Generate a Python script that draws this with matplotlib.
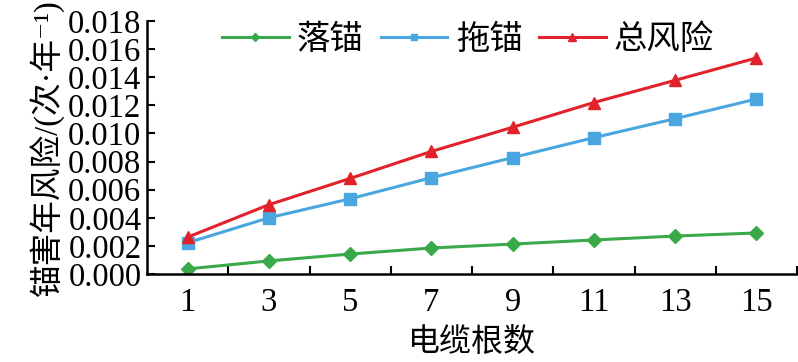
import numpy as np
import matplotlib
matplotlib.use("Agg")
import matplotlib.pyplot as plt

plt.rcParams['font.family'] = ['Liberation Serif', 'Noto Sans CJK SC', 'DejaVu Serif']

# data
cable_counts = ['1', '3', '5', '7', '9', '11', '13', '15']
drop_anchor = [0.00036, 0.00093, 0.00142, 0.00185, 0.00213, 0.00242, 0.00270, 0.00292]
drag_anchor = [0.00222, 0.00400, 0.00535, 0.00685, 0.00828, 0.00970, 0.01105, 0.01245]
total_risk = [0.00262, 0.00493, 0.00680, 0.00872, 0.01044, 0.01220, 0.01378, 0.01537]
series_names = ['落锚', '拖锚', '总风险']

fig = plt.figure(figsize=(7.98, 3.62), dpi=100)
ax = fig.add_axes([147 / 798, 1 - 274 / 362, 650 / 798, 253 / 362])

x = np.arange(len(cable_counts))
ax.plot(x, drop_anchor, color='#3aa94a', lw=2.2, marker='D', ms=7.5, label=series_names[0])
ax.plot(x, drag_anchor, color='#4aa6de', lw=2.2, marker='s', ms=8, label=series_names[1])
ax.plot(x, total_risk, color='#e1222b', lw=2.2, marker='^', ms=9, label=series_names[2])

ax.set_xlim(-0.5, len(cable_counts) - 0.5)
ax.set_ylim(0, 0.018)
yt = np.arange(0, 0.0181, 0.002)
ax.set_yticks(yt)
ax.set_yticklabels([f'{v:.3f}' for v in yt])

# category axis: ticks at boundaries, labels at centres
ax.set_xticks(np.arange(len(cable_counts)) + 0.5)
ax.set_xticklabels([])
ax.set_xticks(x, minor=True)
ax.set_xticklabels(cable_counts, minor=True)
ax.tick_params(axis='x', which='major', direction='in', length=6, width=1.5)
ax.tick_params(axis='x', which='minor', length=0, pad=10, labelsize=23.5)
ax.tick_params(axis='y', direction='in', length=6, width=1.5, labelsize=23.5, pad=4)

for s in ['top', 'right']:
    ax.spines[s].set_visible(False)
for s in ['left', 'bottom']:
    ax.spines[s].set_linewidth(1.8)

ax.set_xlabel('电缆根数', fontsize=23, labelpad=7)
ax.set_ylabel('锚害年风险/(次·年⁻¹)', fontsize=23.5, labelpad=3)

ax.legend(loc='upper center', bbox_to_anchor=(0.494, 1.105), ncol=3, frameon=False,
          fontsize=24, markerscale=0.6, handlelength=2.0, columnspacing=0.5,
          handletextpad=0.25)

fig.savefig('out.png', dpi=100)
